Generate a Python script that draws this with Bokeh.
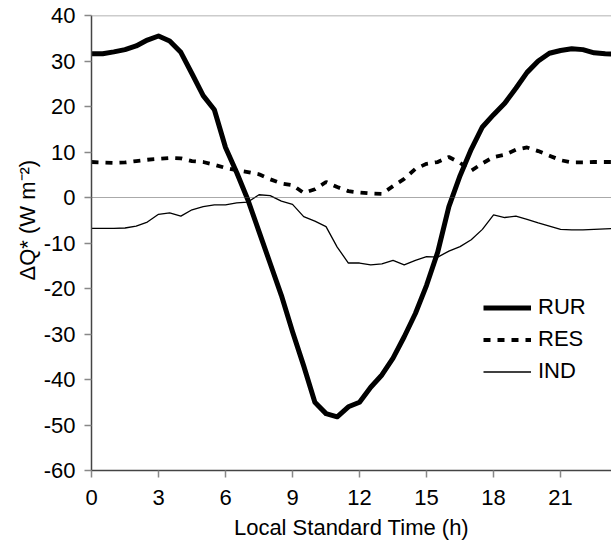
from bokeh.plotting import figure
from bokeh.models import Span, Title, FixedTicker, Legend, LegendItem, ColumnDataSource, PrintfTickFormatter
from bokeh.embed import file_html
from bokeh.resources import INLINE

# Local standard time (h), half-hourly
hours = [i * 0.5 for i in range(48)]

rur = [31.6, 31.6, 32.0, 32.5, 33.3, 34.6, 35.5, 34.4, 31.9, 27.2,
       22.4, 19.3, 11.0, 5.5, -0.5, -7.5, -14.5, -21.5, -29.5, -37.0,
       -45.0, -47.5, -48.2, -46.0, -45.0, -41.7, -39.0, -35.3, -30.6, -25.5,
       -19.3, -12.0, -2.0, 4.8, 10.6, 15.5, 18.2, 20.7, 24.0, 27.5,
       30.0, 31.7, 32.3, 32.7, 32.5, 31.8, 31.6, 31.5]

res = [7.8, 7.7, 7.6, 7.7, 8.0, 8.3, 8.5, 8.7, 8.6, 8.0,
       7.8, 7.2, 6.5, 6.0, 5.6, 5.1, 4.0, 3.1, 2.7, 1.0,
       1.8, 3.4, 2.3, 1.4, 1.1, 0.9, 0.8, 2.5, 4.1, 6.3,
       7.4, 7.8, 8.9, 7.6, 5.9, 7.5, 8.9, 9.4, 10.5, 11.0,
       10.2, 9.2, 8.2, 7.7, 7.7, 7.8, 7.8, 7.8]

ind = [-6.8, -6.8, -6.8, -6.7, -6.3, -5.4, -3.7, -3.4, -4.1, -2.7,
       -2.0, -1.6, -1.6, -1.2, -1.0, 0.6, 0.4, -0.8, -1.5, -4.2,
       -5.2, -6.4, -10.9, -14.4, -14.4, -14.8, -14.6, -13.8, -14.8, -13.8,
       -13.0, -13.1, -11.8, -10.8, -9.3, -7.0, -3.8, -4.4, -4.1, -4.8,
       -5.6, -6.3, -7.0, -7.1, -7.1, -7.0, -6.9, -6.8]

x_ticks = [0, 3, 6, 9, 12, 15, 18, 21]
y_ticks = [-60, -50, -40, -30, -20, -10, 0, 10, 20, 30, 40]
series_names = ["RUR", "RES", "IND"]

FONT = "Liberation Sans"

p = figure(width=611, height=548, x_range=(0, 23.28), y_range=(-60, 40),
           output_backend="svg", toolbar_location=None,
           min_border_left=91, min_border_right=0, min_border_top=15,
           min_border_bottom=78)
p.outline_line_color = None
p.grid.visible = False
p.background_fill_color = "white"
p.border_fill_color = "white"

p.xaxis.ticker = FixedTicker(ticks=x_ticks)
p.yaxis.ticker = FixedTicker(ticks=y_ticks)
p.xaxis.formatter = PrintfTickFormatter(format="%d")
p.yaxis.formatter = PrintfTickFormatter(format="%d")
for ax in (p.xaxis, p.yaxis):
    ax.axis_line_color = "#444444"
    ax.axis_line_width = 1.5
    ax.major_tick_line_color = "#888888"
    ax.major_tick_line_width = 1.5
    ax.major_tick_out = 7
    ax.major_tick_in = 0
    ax.minor_tick_line_color = None
    ax.major_label_text_font = FONT
    ax.major_label_text_font_size = "22px"
    ax.major_label_text_color = "black"
p.yaxis.major_label_standoff = 9
p.xaxis.major_label_standoff = 12

p.xaxis.axis_label = "Local Standard Time (h)"
p.xaxis.axis_label_text_font = FONT
p.xaxis.axis_label_text_font_size = "22px"
p.xaxis.axis_label_text_font_style = "normal"
p.xaxis.axis_label_text_color = "black"
p.xaxis.axis_label_standoff = 7

# top frame line and zero reference
p.add_layout(Span(location=40, dimension="width", line_color="#999999", line_width=1.5))
p.add_layout(Span(location=0, dimension="width", line_color="#555555", line_width=1,
                  line_dash="1 1"))

src = ColumnDataSource(dict(h=hours, rur=rur, res=res, ind=ind))
r1 = p.line("h", "rur", source=src, line_color="black", line_width=5, line_join="round")
r2 = p.line("h", "res", source=src, line_color="black", line_width=3.8, line_dash="7 7")
r3 = p.line("h", "ind", source=src, line_color="black", line_width=1.3)

legend = Legend(items=[LegendItem(label=series_names[0], renderers=[r1]),
                       LegendItem(label=series_names[1], renderers=[r2]),
                       LegendItem(label=series_names[2], renderers=[r3])],
                location=(392, 86), orientation="vertical",
                glyph_width=48, glyph_height=21, label_height=21, spacing=6,
                padding=0, margin=0, label_standoff=7,
                label_text_font=FONT, label_text_font_size="22px",
                label_text_color="black",
                border_line_color=None, background_fill_alpha=0)
p.add_layout(legend)

ytitle = Title(text="\u0394Q* (W m\u207b\u00b2)", align="left", offset=190,
               text_font=FONT, text_font_size="22px", text_font_style="normal",
               text_color="black", standoff=2)
p.add_layout(ytitle, "left")

open("out.html", "w").write(file_html(p, INLINE))
